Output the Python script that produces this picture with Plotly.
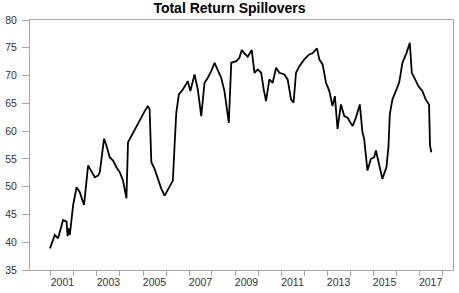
import plotly.graph_objects as go

dates = [
    "2000-12-16", "2001-03-03", "2001-04-24", "2001-06-17", "2001-07-12", "2001-09-05",
    "2001-09-21", "2001-10-11", "2001-10-27", "2001-12-19", "2002-02-11", "2002-04-03",
    "2002-06-10", "2002-08-13", "2002-10-06", "2002-11-28", "2003-01-19", "2003-02-15",
    "2003-04-23", "2003-05-31", "2003-07-22", "2003-09-13", "2003-11-06", "2003-12-28",
    "2004-02-19", "2004-04-13", "2004-05-08", "2004-07-01", "2004-08-22", "2004-10-14",
    "2004-12-07", "2005-01-28", "2005-03-20", "2005-04-16", "2005-05-13", "2005-07-04",
    "2005-08-26", "2005-10-19", "2005-12-10", "2006-02-28", "2006-04-20", "2006-05-17",
    "2006-06-13", "2006-07-24", "2006-09-26", "2006-12-14", "2007-01-22", "2007-03-30",
    "2007-05-21", "2007-07-14", "2007-09-05", "2007-10-27", "2007-12-20", "2008-02-11",
    "2008-04-03", "2008-05-26", "2008-07-17", "2008-09-24", "2008-11-02", "2009-01-20",
    "2009-03-12", "2009-04-17", "2009-05-30", "2009-07-21", "2009-09-23", "2009-11-05",
    "2009-12-27", "2010-02-20", "2010-04-01", "2010-05-08", "2010-06-30", "2010-08-21",
    "2010-10-14", "2010-12-06", "2011-02-24", "2011-04-16", "2011-06-09", "2011-07-19",
    "2011-08-27", "2011-10-18", "2012-01-06", "2012-03-24", "2012-05-16", "2012-07-25",
    "2012-08-31", "2012-10-22", "2012-12-15", "2013-02-06", "2013-03-28", "2013-05-05",
    "2013-06-16", "2013-08-09", "2013-10-01", "2013-11-22", "2014-02-10", "2014-04-03",
    "2014-06-05", "2014-07-16", "2014-08-13", "2014-10-04", "2014-11-27", "2015-01-19",
    "2015-02-15", "2015-04-07", "2015-05-29", "2015-08-01", "2015-09-02", "2015-09-24",
    "2015-11-04", "2015-12-28", "2016-02-19", "2016-04-11", "2016-06-13", "2016-08-06",
    "2016-09-07", "2016-10-29", "2016-12-20", "2017-02-23", "2017-04-16", "2017-06-08",
    "2017-06-23", "2017-07-14",
]

spillover = [
    38.9, 41.3, 40.7, 43.1, 44.0, 43.7,
    41.1, 42.5, 41.3, 46.7, 49.9, 49.0,
    46.7, 53.8, 52.6, 51.7, 52.0, 52.6,
    58.6, 57.4, 55.3, 54.7, 53.5, 52.6,
    51.1, 47.9, 58.0, 59.2, 60.1, 61.5,
    62.7, 63.6, 64.5, 63.9, 54.4, 53.2,
    51.4, 49.6, 48.4, 50.2, 51.1, 57.4,
    63.3, 66.6, 67.5, 69.0, 67.2, 70.2,
    67.5, 62.7, 68.7, 69.6, 70.8, 72.3,
    71.1, 69.6, 67.2, 61.5, 72.3, 72.6,
    73.2, 74.6, 74.0, 73.4, 74.6, 70.5,
    71.1, 70.5, 67.5, 65.4, 69.3, 68.7,
    71.4, 70.5, 70.2, 69.3, 65.7, 65.1,
    70.5, 71.7, 72.9, 73.8, 74.0, 74.9,
    72.9, 72.0, 68.7, 67.2, 64.5, 66.3,
    60.4, 64.8, 62.7, 62.4, 60.9, 62.4,
    64.8, 59.8, 58.6, 52.9, 55.0, 55.3,
    56.5, 53.8, 51.4, 53.5, 57.1, 63.0,
    65.7, 67.2, 68.7, 72.3, 74.0, 75.9,
    70.5, 69.3, 68.1, 67.2, 65.7, 64.8,
    57.4, 56.2,
]

year_ticks = [str(y) + "-01-01" for y in range(2001, 2019)]
label_years = ["2001", "2003", "2005", "2007", "2009", "2011", "2013", "2015", "2017"]
label_positions = [y + "-07-02" for y in label_years]
y_ticks = [35, 40, 45, 50, 55, 60, 65, 70, 75, 80]

x_range = ["2000-02-03", "2018-06-23"]

fig = go.Figure()
fig.add_trace(go.Scatter(
    x=dates, y=spillover, mode="lines",
    line=dict(color="black", width=1.8),
    showlegend=False,
))
# invisible helper trace so the labelling axis is drawn
fig.add_trace(go.Scatter(
    x=[dates[0]], y=[spillover[0]], xaxis="x2", mode="lines",
    line=dict(width=0), showlegend=False, hoverinfo="skip",
))

axis_color = "#a6a6a6"
font_color = "#333333"

fig.update_layout(
    width=459, height=293,
    margin=dict(l=30, r=5, t=20, b=21),
    paper_bgcolor="white", plot_bgcolor="white",
    font=dict(family="Liberation Sans, Arial, sans-serif", size=10.5, color=font_color),
    title=dict(
        text="<b>Total Return Spillovers</b>",
        x=0.5, xanchor="center", y=0.973, yanchor="middle",
        font=dict(size=14, color="black"),
    ),
    xaxis=dict(
        type="date", range=x_range,
        tickmode="array", tickvals=year_ticks, showticklabels=False,
        ticks="outside", ticklen=5, tickcolor=axis_color,
        showgrid=False, zeroline=False,
        showline=True, linecolor=axis_color, linewidth=1, mirror=True,
    ),
    xaxis2=dict(
        type="date", range=x_range, overlaying="x", side="bottom",
        tickmode="array", tickvals=label_positions, ticktext=label_years,
        ticks="", ticklabelstandoff=4,
        showgrid=False, zeroline=False, showline=False,
    ),
    yaxis=dict(
        range=[35, 80], tickmode="array", tickvals=y_ticks,
        ticks="outside", ticklen=7, tickcolor=axis_color,
        ticklabelstandoff=3,
        showgrid=False, zeroline=False,
        showline=True, linecolor=axis_color, linewidth=1, mirror=True,
    ),
)

fig.write_html(
    "out.html",
    config={"displayModeBar": False},
    post_script="document.body.style.margin='0';document.body.style.overflow='hidden';",
)
